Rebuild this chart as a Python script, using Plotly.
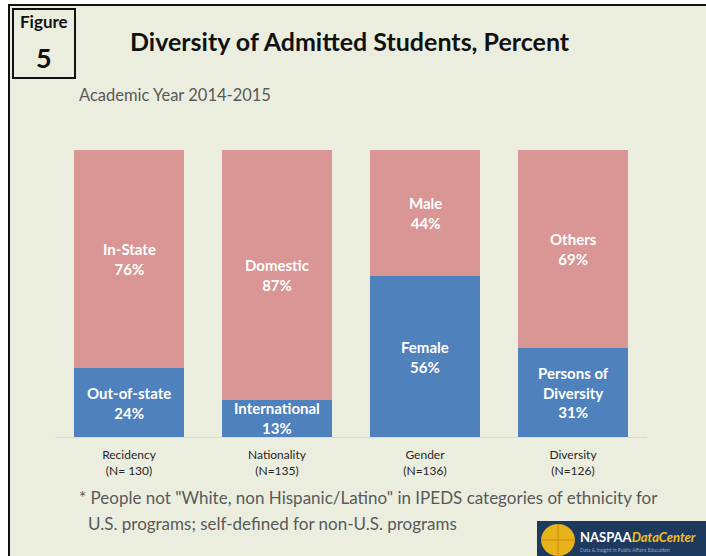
import plotly.graph_objects as go

# data
categories = ["Recidency<br>(N= 130)", "Nationality<br>(N=135)", "Gender<br>(N=136)", "Diversity<br>(N=126)"]
bottom_labels = ["Out-of-state", "International", "Female", "Persons of<br>Diversity"]
bottom_values = [24, 13, 56, 31]
top_labels = ["In-State", "Domestic", "Male", "Others"]
top_values = [76, 87, 44, 69]

BLUE = "#4F81BD"
PINK = "#D99694"
BG = "#EBEEDF"
FONT = "Lato, 'Open Sans', sans-serif"

W, H = 706, 556
L, R, T, B = 55, 59, 150, 119


def px2x(px):
    return (px - L) / (W - L - R)


def px2y(py):
    return (H - B - py) / (H - T - B)


fig = go.Figure()
fig.add_trace(go.Bar(x=categories, y=bottom_values, marker=dict(color=BLUE, line=dict(width=0)),
                     hoverinfo="skip"))
fig.add_trace(go.Bar(x=categories, y=top_values, marker=dict(color=PINK, line=dict(width=0)),
                     hoverinfo="skip"))

# segment labels
for cat, bl, bv, tl, tv in zip(categories, bottom_labels, bottom_values, top_labels, top_values):
    fig.add_annotation(x=cat, y=bv / 2, text=f"{bl}<br>{bv}%", showarrow=False,
                       font=dict(family=FONT, size=15, color="white", weight="bold"))
    fig.add_annotation(x=cat, y=bv + tv / 2, text=f"{tl}<br>{tv}%", showarrow=False,
                       font=dict(family=FONT, size=15, color="white", weight="bold"))

shapes = [
    # panel background and outer border
    dict(type="rect", xref="paper", yref="paper", x0=px2x(9), x1=px2x(W + 20), y0=px2y(H + 20), y1=px2y(5),
         fillcolor=BG, line=dict(color="#111111", width=2), layer="below"),
    # figure number box
    dict(type="rect", xref="paper", yref="paper", x0=px2x(13), x1=px2x(75), y0=px2y(78), y1=px2y(9),
         fillcolor=BG, line=dict(color="#111111", width=2)),
    # logo
    dict(type="rect", xref="paper", yref="paper", x0=px2x(537), x1=px2x(W + 5), y0=px2y(H + 5), y1=px2y(521),
         fillcolor="#1D3A5E", line=dict(width=0)),
    dict(type="circle", xref="paper", yref="paper", x0=px2x(541), x1=px2x(575), y0=px2y(556), y1=px2y(524),
         fillcolor="#E8B21A", line=dict(width=0)),
    dict(type="line", xref="paper", yref="paper", x0=px2x(541), x1=px2x(575), y0=px2y(540), y1=px2y(540),
         line=dict(color="#C98E10", width=1)),
    dict(type="line", xref="paper", yref="paper", x0=px2x(558), x1=px2x(558), y0=px2y(524), y1=px2y(556),
         line=dict(color="#C98E10", width=1)),
]

texts = [
    dict(x=px2x(44), y=px2y(22), text="Figure", font=dict(size=17, color="#111111", weight="bold")),
    dict(x=px2x(44), y=px2y(58), text="5", font=dict(size=27, color="#111111", weight="bold")),
    dict(x=px2x(350), y=px2y(41), text="Diversity of Admitted Students, Percent",
         font=dict(size=25, color="#111111", weight="bold")),
    dict(x=px2x(77), y=px2y(95), text="Academic Year 2014-2015", xanchor="left",
         font=dict(size=16.5, color="#595959")),
    dict(x=px2x(77), y=px2y(497), xanchor="left",
         text="* People not \"White, non Hispanic/Latino\" in IPEDS categories of ethnicity for",
         font=dict(size=17, color="#595959")),
    dict(x=px2x(86), y=px2y(523), xanchor="left",
         text="U.S. programs; self-defined for non-U.S. programs",
         font=dict(size=17, color="#595959")),
    dict(x=px2x(578), y=px2y(537), xanchor="left",
         text="<b>NASPAA</b><i><b><span style='color:#F2C01E'>DataCenter</span></b></i>",
         font=dict(size=13, color="white")),
    dict(x=px2x(578), y=px2y(550), xanchor="left", text="Data & Insight in Public Affairs Education",
         font=dict(size=5, color="#8FA8D0")),
]
for t in texts:
    fnt = dict(family=FONT)
    fnt.update(t.pop("font"))
    t.setdefault("xanchor", "center")
    fig.add_annotation(xref="paper", yref="paper", showarrow=False, yanchor="middle",
                       font=fnt, **t)

fig.update_layout(
    width=W, height=H,
    margin=dict(l=L, r=R, t=T, b=B),
    barmode="stack",
    bargap=0.257,
    showlegend=False,
    paper_bgcolor="white",
    plot_bgcolor="rgba(0,0,0,0)",
    shapes=shapes,
    font=dict(family=FONT, color="#262626"),
)
fig.update_xaxes(showline=True, linecolor="#D9D9D9", linewidth=1, ticks="", ticklabelstandoff=7,
                 tickfont=dict(size=12, color="#262626"), showgrid=False, fixedrange=True)
fig.update_yaxes(range=[0, 100], visible=False, showgrid=False, fixedrange=True)

fig.write_html("out.html", config={"displayModeBar": False},
               post_script="document.body.style.margin='0';")
